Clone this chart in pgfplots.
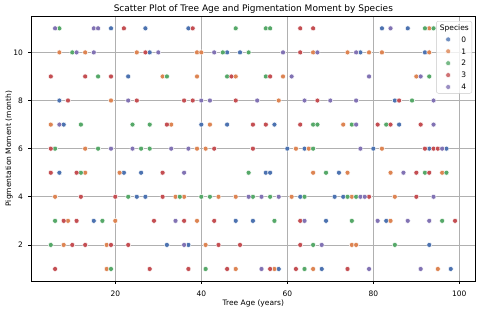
\documentclass[border=0pt]{standalone}
\usepackage{pgfplots}
\pgfplotsset{compat=1.18}
\usepackage{fontspec}
\setmainfont{DejaVu Sans}
\definecolor{c0}{HTML}{4C72B0}
\definecolor{c1}{HTML}{DD8452}
\definecolor{c2}{HTML}{55A868}
\definecolor{c3}{HTML}{C44E52}
\definecolor{c4}{HTML}{8172B3}
\definecolor{gridc}{HTML}{B0B0B0}
\pgfplotsset{sp/.style={only marks, mark=*, mark size=2.5pt, fill=#1, draw=white, line width=0.45pt}}
\begin{document}
\begin{tikzpicture}
\useasboundingbox (0pt,0pt) rectangle (480pt,309pt);
\begin{axis}[
  at={(31pt,28pt)}, anchor=south west,
  scale only axis, width=444.7pt, height=264.7pt,
  xmin=0.4, xmax=103.8, ymin=0.5, ymax=11.5,
  xtick={20,40,60,80,100}, ytick={2,4,6,8,10},
  /pgf/number format/assume math mode=true,
  tick pos=left, tick align=outside, major tick length=2.6pt,
  tick style={line width=0.6pt, black},
  axis line style={line width=0.6pt, black},
  grid=major, major grid style={line width=0.6pt, gridc},
  ticklabel style={font=\fontsize{7.5}{9}\selectfont, inner sep=0pt},
  xticklabel style={anchor=base, yshift=-12.4pt},
  yticklabel style={anchor=east, xshift=-5.2pt},
  xlabel={Tree Age (years)},
  xlabel style={font=\fontsize{7.5}{9}\selectfont, at={(axis description cs:0.5,-0.0922)}, anchor=base, inner sep=0pt},
  ylabel={Pigmentation Moment (month)},
  ylabel style={font=\fontsize{7.5}{9}\selectfont, at={(axis description cs:-0.0445,0.5)}, anchor=base, inner sep=0pt},
  clip=false,
  legend cell align=left,
  legend style={at={(axis description cs:1,1)}, anchor=north east, xshift=-3.7pt, yshift=-4.7pt,
    font=\fontsize{7.5}{9}\selectfont, draw=gridc!70, rounded corners=2pt, fill=white, fill opacity=0.8, text opacity=1,
    inner xsep=3pt, inner ysep=3.6pt, row sep=6.5pt, column sep=4.5pt,
    nodes={inner sep=0pt, text height=5.4pt, text depth=0pt}},
  legend image code/.code={\draw[#1] plot coordinates {(0.3cm,0cm)}; \path (0cm,0cm) (0.6cm,0cm);},
]
\node[font=\fontsize{9}{11}\selectfont, anchor=base, inner sep=0pt] at (axis description cs:0.5,1.0178) {Scatter Plot of Tree Age and Pigmentation Moment by Species};
\addlegendimage{empty legend}
\addlegendentry{\hspace*{-21.5pt}Species}
\addplot[sp=c0] table {
x y
19 11
27 11
37 11
82 11
88 11
28 10
46 10
49 10
77 10
92 10
23 9
7 8
85 8
8 7
40 7
46 7
57 7
86 7
60 6
64 6
80 6
93 6
97 6
7 5
22 5
26 5
55 5
56 5
72 5
25 4
27 4
63 4
71 4
73 4
15 3
48 3
52 3
69 3
83 3
32 2
37 2
93 2
58 1
68 1
98 1
};
\addlegendentry{0}
\addplot[sp=c1] table {
x y
93 11
7 10
13 10
25 10
39 10
40 10
66 10
74 10
79 10
82 10
93 10
31 9
39 9
48 9
59 9
90 9
19 8
58 8
5 7
33 7
42 7
73 7
13 6
39 6
41 6
62 6
65 6
82 6
13 5
21 5
66 5
74 5
84 5
96 5
6 4
34 4
36 4
44 4
48 4
61 4
75 4
85 4
9 3
20 3
39 3
84 3
8 2
18 2
41 2
75 2
76 2
18 1
48 1
57 1
66 1
95 1
};
\addlegendentry{1}
\addplot[sp=c2] table {
x y
7 11
48 11
55 11
56 11
92 11
94 11
10 10
45 10
51 10
16 9
32 9
46 9
55 9
93 9
89 8
12 7
24 7
28 7
66 7
67 7
75 7
83 7
6 6
16 6
26 6
28 6
66 6
12 5
51 5
69 5
92 5
97 5
23 4
35 4
40 4
42 4
52 4
56 4
64 4
74 4
76 4
6 3
17 3
57 3
75 3
96 3
5 2
66 2
85 2
19 1
41 1
64 1
};
\addlegendentry{2}
\addplot[sp=c3] table {
x y
22 11
38 11
63 11
66 11
27 10
63 10
5 9
13 9
19 9
47 9
56 9
9 8
25 8
36 8
38 8
48 8
67 8
86 8
32 7
52 7
55 7
63 7
81 7
84 7
91 7
5 6
43 6
52 6
92 6
94 6
95 6
5 5
11 5
31 5
90 5
93 5
12 4
20 4
31 4
79 4
90 4
8 3
11 3
29 3
36 3
43 3
63 3
99 3
10 2
13 2
19 2
23 2
44 2
49 2
63 2
6 1
28 1
37 1
46 1
56 1
62 1
74 1
};
\addlegendentry{3}
\addplot[sp=c4] table {
x y
6 11
15 11
16 11
84 11
11 10
15 10
30 10
43 10
59 10
67 10
76 10
61 9
79 9
91 9
23 8
40 8
42 8
53 8
64 8
70 8
76 8
94 8
7 7
76 7
94 7
19 6
24 6
33 6
37 6
77 6
96 6
36 5
87 5
51 4
54 4
58 4
77 4
78 4
94 4
34 3
64 3
81 3
88 3
93 3
36 2
68 2
54 1
79 1
91 1
};
\addlegendentry{4}
\end{axis}
\end{tikzpicture}
\end{document}
